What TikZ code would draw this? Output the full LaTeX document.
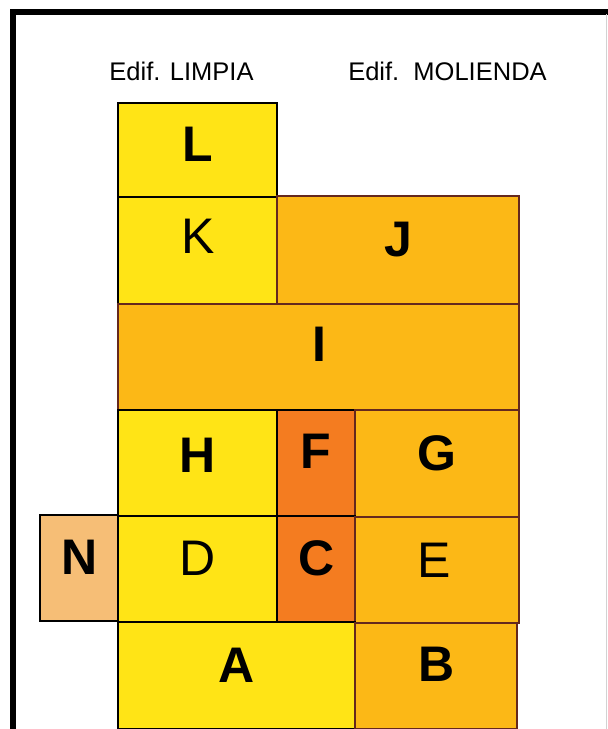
\documentclass[tikz,border=0pt]{standalone}
\usepackage{fontspec}
\setmainfont{Liberation Sans}
\definecolor{yel}{RGB}{255,228,22}
\definecolor{amb}{RGB}{252,184,22}
\definecolor{org}{RGB}{244,124,32}
\definecolor{pale}{RGB}{246,190,118}
\definecolor{brn}{RGB}{100,40,30}
\begin{document}
\begin{tikzpicture}[x=1pt,y=-1pt,
  cellY/.style={fill=yel,draw=black,line width=1.3pt},
  cellO/.style={fill=amb,draw=brn,line width=1.3pt},
  cellR/.style={fill=org,draw=black,line width=1.3pt},
  cellN/.style={fill=pale,draw=black,line width=1.3pt},
  lab/.style={font=\fontsize{50}{50}\selectfont\bfseries,inner sep=0pt},
  labn/.style={font=\fontsize{50}{50}\selectfont,inner sep=0pt},
  head/.style={font=\fontsize{25.5}{30}\selectfont,inner sep=0pt,anchor=base}]
\useasboundingbox (0,0) rectangle (608,729);
\fill[white] (0,0) rectangle (608,729);
\begin{scope}
\clip (0,0) rectangle (608,729);
% frame
\draw[line width=6pt,line cap=butt] (13,740) -- (13,11.5) -- (620,11.5);
\draw[gray!35,line width=1pt] (606.5,14) -- (606.5,740);
% cells
\path[cellY] (118,103) rectangle (277,197);
\path[cellY] (118,197) rectangle (277,304);
\path[cellO] (277,196) rectangle (519,304);
\path[cellO] (118,304) rectangle (519,410);
\path[cellY] (118,410) rectangle (277,516);
\path[cellR] (277,410) rectangle (355,516);
\path[cellO] (355,410) rectangle (519,517);
\path[cellN] (40,515) rectangle (118,621);
\path[cellY] (118,516) rectangle (277,622);
\path[cellR] (277,516) rectangle (355,622);
\path[cellO] (355,517) rectangle (519,623);
\path[cellY] (118,622) rectangle (355,729);
\path[cellO] (355,623) rectangle (517,729);
\end{scope}
% headers
\node[head] (h1) at (181.5,80) {Edif. LIMPIA};
\node[head] (h2) at (447.5,80) {Edif.\ \ MOLIENDA};
% labels
\node[lab]  (L) at (198,144) {L};
\node[labn] (K) at (198,236) {K};
\node[lab]  (J) at (398,240) {J};
\node[lab]  (I) at (319,344) {I};
\node[lab]  (H) at (198,455) {H};
\node[lab]  (F) at (316,451) {F};
\node[lab]  (G) at (437,453) {G};
\node[lab]  (N) at (80,557) {N};
\node[labn] (D) at (198,558) {D};
\node[lab]  (C) at (317,558) {C};
\node[labn] (E) at (434,560) {E};
\node[lab]  (A) at (237,665) {A};
\node[lab]  (B) at (437,664) {B};
\end{tikzpicture}
\end{document}
